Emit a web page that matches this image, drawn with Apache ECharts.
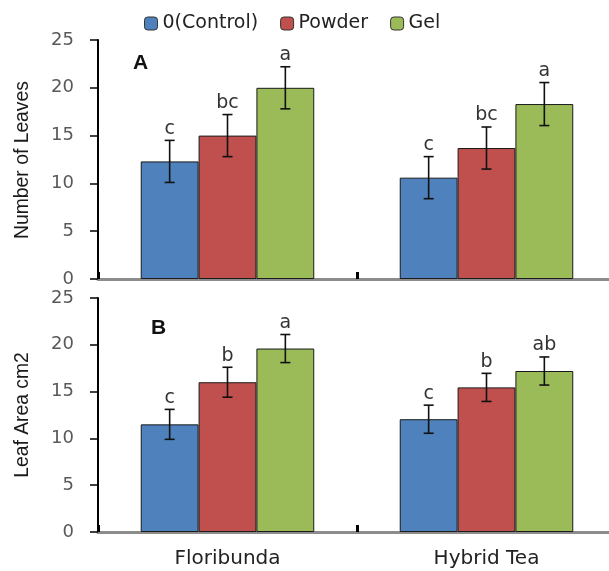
<!DOCTYPE html>
<html>
<head>
<meta charset="utf-8">
<script src="https://cdn.jsdelivr.net/npm/echarts@6/dist/echarts.min.js"></script>
<style>
  html, body { margin: 0; padding: 0; background: #fff; }
  #chart { width: 609px; height: 571px; }
</style>
</head>
<body>
<div id="chart"></div>
<script>
// categories and series
const categories = ['Floribunda', 'Hybrid Tea'];
const seriesNames = ['0(Control)', 'Powder', 'Gel'];
const colors = ['#4F81BD', '#C0504D', '#9BBB59'];

// Panel A: number of leaves (mean, error, letter) per series
const leavesControl = [12.3, 10.6];
const leavesPowder = [15.0, 13.7];
const leavesGel = [20.0, 18.3];
const leavesErrControl = [2.2, 2.2];
const leavesErrPowder = [2.2, 2.2];
const leavesErrGel = [2.2, 2.25];
const leavesLetters = [['c', 'c'], ['bc', 'bc'], ['a', 'a']];

// Panel B: leaf area cm2
const areaControl = [11.5, 12.05];
const areaPowder = [16.0, 15.45];
const areaGel = [19.6, 17.2];
const areaErrControl = [1.6, 1.5];
const areaErrPowder = [1.6, 1.5];
const areaErrGel = [1.5, 1.5];
const areaLetters = [['c', 'c'], ['b', 'b'], ['a', 'ab']];

const yTicks = { min: 0, max: 25, interval: 5 };
const GAP = 0.33;

const chart = echarts.init(document.getElementById('chart'));

function errRenderer(slot, letters) {
    return function (params, api) {
        const xi = api.value(0);
        const mean = api.value(1);
        const err = api.value(2);
        const band = api.size([1, 0])[0];
        const bw = band * (1 - GAP) / 3;
        const cx = api.coord([xi, mean])[0] + (slot - 1) * bw;
        const top = api.coord([xi, mean + err])[1];
        const bot = api.coord([xi, mean - err])[1];
        const style = { stroke: '#111', lineWidth: 1.6 };
        return {
            type: 'group',
            children: [
                { type: 'line', shape: { x1: cx, y1: top, x2: cx, y2: bot }, style: style },
                { type: 'line', shape: { x1: cx - 5, y1: top, x2: cx + 5, y2: top }, style: style },
                { type: 'line', shape: { x1: cx - 5, y1: bot, x2: cx + 5, y2: bot }, style: style },
                {
                    type: 'text',
                    style: {
                        text: letters[slot][params.dataIndex],
                        x: cx, y: top - 2,
                        align: 'center', verticalAlign: 'bottom',
                        font: '19px "DejaVu Sans"', fill: '#333'
                    }
                }
            ]
        };
    };
}

function panelSeries(gridIdx, means, errs, letters) {
    const out = [];
    means.forEach((vals, i) => {
        out.push({
            name: seriesNames[i],
            type: 'bar',
            xAxisIndex: gridIdx,
            yAxisIndex: gridIdx,
            data: vals,
            barGap: 0,
            barCategoryGap: (GAP * 100) + '%',
            itemStyle: { color: colors[i], borderColor: '#1a1a1a', borderWidth: 1 },
            emphasis: { disabled: true }
        });
    });
    means.forEach((vals, i) => {
        out.push({
            type: 'custom',
            xAxisIndex: gridIdx,
            yAxisIndex: gridIdx,
            z: 5,
            renderItem: errRenderer(i, letters),
            data: vals.map((v, k) => [k, v, errs[i][k]])
        });
    });
    return out;
}

function xAxis(gridIdx, showLabels) {
    return {
        type: 'category',
        gridIndex: gridIdx,
        data: categories,
        axisLine: { lineStyle: { color: '#8c8c8c', width: 3 } },
        axisTick: { show: true, inside: true, length: 7, lineStyle: { color: '#000', width: 3 } },
        axisLabel: {
            show: showLabels, margin: 17, color: '#222',
            fontFamily: 'DejaVu Sans', fontSize: 20
        }
    };
}

function yAxis(gridIdx) {
    return {
        type: 'value',
        gridIndex: gridIdx,
        min: yTicks.min, max: yTicks.max, interval: yTicks.interval,
        axisLine: { show: true, lineStyle: { color: '#000', width: 2 } },
        axisTick: { show: true, length: 8, lineStyle: { color: '#000', width: 1.5 } },
        axisLabel: { margin: 24, color: '#595959', fontFamily: 'DejaVu Sans', fontSize: 18 },
        splitLine: { show: false }
    };
}

// rotated, slightly condensed axis titles
function yTitle(text, cy) {
    return {
        type: 'text', x: 22, y: cy, rotation: Math.PI / 2, scaleX: 0.92,
        style: {
            text: text, font: '21px "Liberation Sans"', fill: '#1a1a1a',
            align: 'center', verticalAlign: 'middle'
        }
    };
}

const option = {
    animation: false,
    backgroundColor: '#fff',
    legend: {
        data: seriesNames,
        left: 139,
        top: 9,
        itemWidth: 13,
        itemHeight: 13,
        itemGap: 22,
        itemStyle: { borderColor: '#333', borderWidth: 1 },
        textStyle: { fontFamily: 'DejaVu Sans', fontSize: 19, color: '#222' }
    },
    grid: [
        { left: 98, top: 40, width: 518, height: 239, outerBoundsMode: 'none' },
        { left: 98, top: 298, width: 518, height: 234, outerBoundsMode: 'none' }
    ],
    xAxis: [xAxis(0, false), xAxis(1, true)],
    yAxis: [yAxis(0), yAxis(1)],
    graphic: [
        yTitle('Number of Leaves', 160),
        yTitle('Leaf Area cm2', 415),
        { type: 'text', x: 133, y: 53, style: { text: 'A', font: 'bold 21px "Liberation Sans"', fill: '#111' } },
        { type: 'text', x: 151, y: 318, style: { text: 'B', font: 'bold 21px "Liberation Sans"', fill: '#111' } }
    ],
    series: [
        ...panelSeries(0, [leavesControl, leavesPowder, leavesGel],
            [leavesErrControl, leavesErrPowder, leavesErrGel], leavesLetters),
        ...panelSeries(1, [areaControl, areaPowder, areaGel],
            [areaErrControl, areaErrPowder, areaErrGel], areaLetters)
    ]
};

chart.setOption(option);
</script>
</body>
</html>
